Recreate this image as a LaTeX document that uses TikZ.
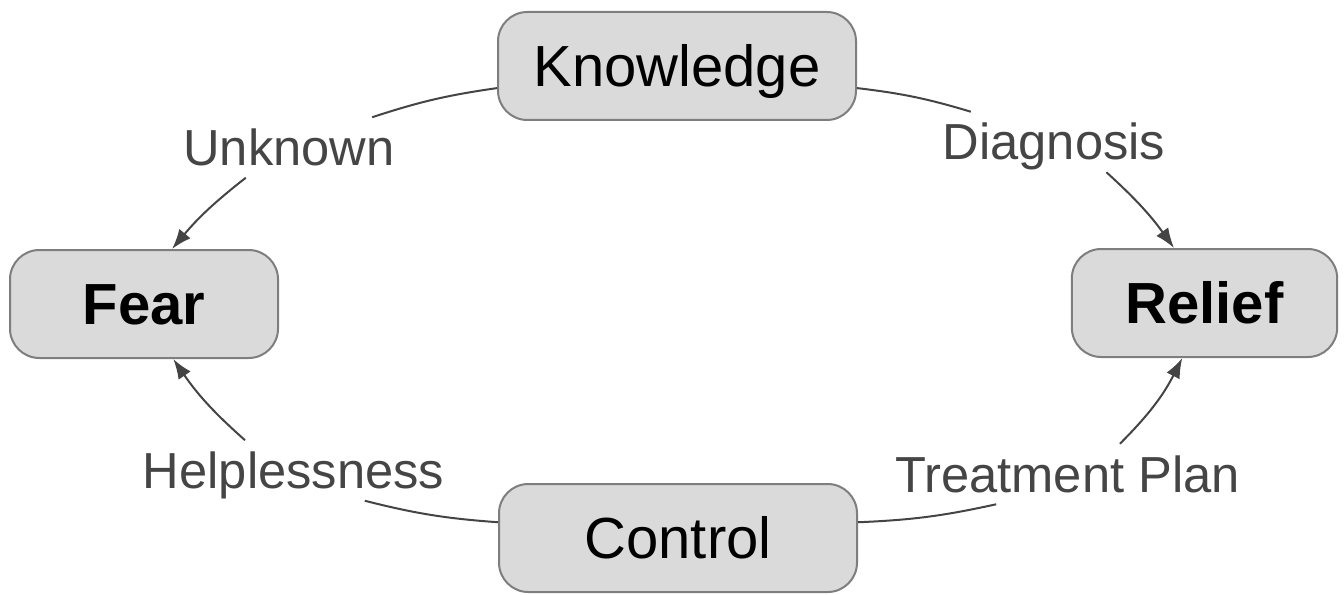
\documentclass[tikz,border=0pt]{standalone}
\usepackage{fontspec}
\setmainfont{Liberation Sans}
\usetikzlibrary{arrows.meta}
\definecolor{boxfill}{HTML}{DADADA}
\definecolor{boxline}{HTML}{7E7E7E}
\definecolor{linecol}{HTML}{444444}
\definecolor{labcol}{HTML}{454545}
\tikzset{
  box/.style={draw=boxline, fill=boxfill, line width=1.5pt, rounded corners=22pt,
    minimum height=81pt, inner sep=0pt, text height=31pt, text depth=0pt,
    font=\fontsize{43.5pt}{50pt}\selectfont, text=black},
  lab/.style={inner xsep=0pt, inner ysep=9pt, text height=27pt, text depth=0pt,
    font=\fontsize{38pt}{44pt}\selectfont, text=labcol},
  conn/.style={draw=linecol, line width=1.5pt},
  arr/.style={conn, -{Latex[length=15pt,width=11pt]}}
}
\begin{document}
\begin{tikzpicture}[x=0.75pt,y=-0.75pt]
\useasboundingbox (0,0) rectangle (1344,595);
\node[box, minimum width=268.5pt] (K) at (677,66) {Knowledge};
\node[box, minimum width=201pt, font=\fontsize{43.5pt}{50pt}\selectfont\bfseries] (F) at (144,304) {Fear};
\node[box, minimum width=199pt, font=\fontsize{43.5pt}{50pt}\selectfont\bfseries] (R) at (1204.5,303) {Relief};
\node[box, minimum width=268.5pt] (C) at (678,538) {Control};

\node[lab] (U) at (289,147.5) {Unknown};
\node[lab] (D) at (1054,142) {Diagnosis};
\node[lab] (H) at (293.5,470.5) {Helplessness};
\node[lab] (T) at (1067.5,474) {Treatment Plan};

\draw[conn] (K.187) to[bend right=5] (U.20);
\draw[arr] (U.215) to[bend right=6] (F.63);
\draw[conn] (K.-7) to[bend left=5] (D.160);
\draw[arr] (D.-30) to[bend left=6] (R.119);
\draw[conn] (C.175) to[bend left=5] (H.-23);
\draw[arr] (H.148) to[bend left=7] (F.-62);
\draw[conn] (C.5) to[bend right=5] (T.203);
\draw[arr] (T.30) to[bend right=9] (R.248);
\end{tikzpicture}
\end{document}
